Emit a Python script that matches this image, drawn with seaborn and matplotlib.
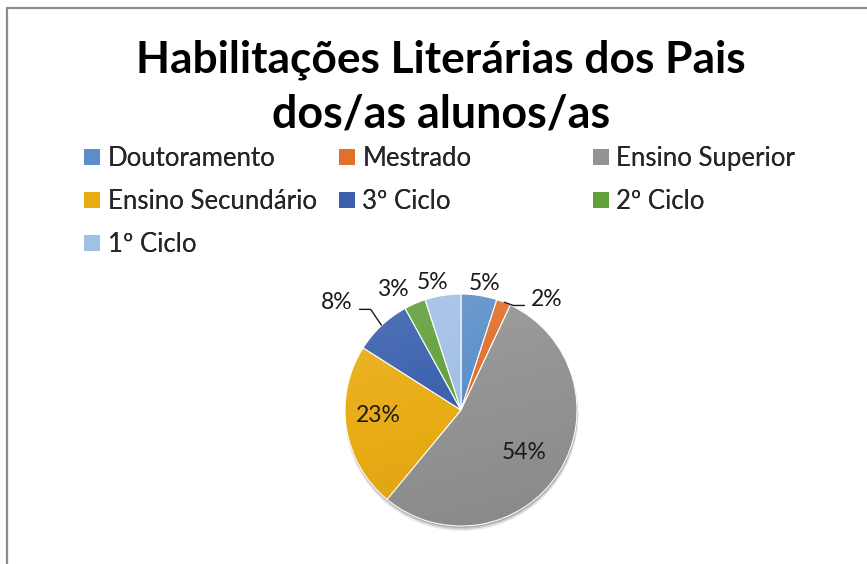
import numpy as np
import matplotlib
matplotlib.use("Agg")
import matplotlib.pyplot as plt
import seaborn as sns
from matplotlib.patches import Circle, Patch
from matplotlib.lines import Line2D

# ---------------- data ----------------
categories = ["Doutoramento", "Mestrado", "Ensino Superior", "Ensino Secundário",
              "3º Ciclo", "2º Ciclo", "1º Ciclo"]
values = [5, 2, 54, 23, 8, 3, 5]
pct_labels = ["5%", "2%", "54%", "23%", "8%", "3%", "5%"]
title_lines = ["Habilitações Literárias dos Pais", "dos/as alunos/as"]

# ---------------- style ----------------
colors = ["#5B8FC9", "#E0702A", "#939393", "#E8AC14", "#3A60AE", "#62A03C", "#A2BFE5"]
label_r = [1.114, 1.21, 0.656, 0.718, 1.412, 1.189, 1.121]
label_nudge = [-1.7, -16.2, -1.1, -4.9, 6.0, 6.1, 3.4]
leader = [False, True, False, False, True, False, False]

sns.set_theme(style="white")
plt.rcParams["font.family"] = ["Lato", "DejaVu Sans"]

W, H = 867, 564
fig = plt.figure(figsize=(W / 100, H / 100), dpi=100)
fig.patch.set_facecolor("white")

# border of the chart area (cropped at right and bottom)
fig.add_artist(Line2D([6.5 / W, 6.5 / W], [0, (H - 8) / H], color="#8c8c8c", lw=1.6,
                      transform=fig.transFigure))
fig.add_artist(Line2D([6.5 / W, 1], [(H - 8) / H, (H - 8) / H], color="#8c8c8c", lw=1.6,
                      transform=fig.transFigure))

# ---------------- pie ----------------
cx, cy, R = 461, 410, 116
lim = 1.5
size = 2 * lim * R
ax = fig.add_axes([(cx - size / 2) / W, (H - cy - size / 2) / H, size / W, size / H])

# soft shadow
for k, (off, a) in enumerate([(0.035, 0.10), (0.025, 0.18), (0.015, 0.25)]):
    ax.add_patch(Circle((0.005, -off), 1.0 + 0.004 * (2 - k), color="#404040", alpha=a,
                        lw=0, zorder=0))

wedges, _ = ax.pie(values, colors=colors, startangle=90, counterclock=False, radius=1,
                   wedgeprops=dict(edgecolor="white", linewidth=0.8))
for w in wedges:
    w.set_zorder(1)

# gradient overlay (light top-left, darker bottom) - continuous
n = 256
t = np.linspace(0, 1, n)[:, None] * np.ones((1, n))   # 0 top -> 1 bottom
s = np.linspace(0, 1, n)[None, :] * np.ones((n, 1))   # 0 left -> 1 right
v = 0.20 * (0.5 - t) + 0.05 * (0.5 - s)
v = np.where(v < 0, v * 0.6, v)
grad = np.zeros((n, n, 4))
grad[..., :3] = np.where((v > 0)[..., None], 1.0, 0.0)
grad[..., 3] = np.abs(v)
im = ax.imshow(grad, extent=[-1, 1, -1, 1], origin="upper", zorder=2, interpolation="bilinear")
im.set_clip_path(Circle((0, 0), 1.0, transform=ax.transData))

ax.set_xlim(-lim, lim)
ax.set_ylim(-lim, lim)
ax.set_aspect("equal")
ax.axis("off")

# labels
for w, lab, r, nd, ld in zip(wedges, pct_labels, label_r, label_nudge, leader):
    mid = 0.5 * (w.theta1 + w.theta2)
    ang = np.deg2rad(mid + nd)
    lx, ly = r * np.cos(ang), r * np.sin(ang)
    ax.text(lx, ly, lab, ha="center", va="center", fontsize=16.5, color="#1a1a1a", zorder=5)
    if ld:
        ex, ey = np.cos(np.deg2rad(mid)), np.sin(np.deg2rad(mid))
        side = 1 if lx > ex else -1
        axp = lx - side * 0.19
        ayp = ly - 0.055
        kx = axp - side * 0.1
        ax.plot([ex, kx, axp], [ey, ayp, ayp], color="#1a1a1a", lw=1.0, zorder=4,
                solid_capstyle="butt")

# ---------------- title ----------------
fig.canvas.draw()
renderer = fig.canvas.get_renderer()
title_targets = [(137, 745, 60), (272, 610, 115)]
for line, (x0, x1, yc) in zip(title_lines, title_targets):
    txt = fig.text((x0 + x1) / 2 / W, (H - yc) / H, line, ha="center", va="center",
                   fontsize=30, fontweight="bold", color="black")
    ww = txt.get_window_extent(renderer).width
    txt.set_fontsize(30 * (x1 - x0) / ww)

# ---------------- legend (three columns) ----------------
fs = 18.5
fpx = fs * 100 / 72
handles = [Patch(facecolor=c, edgecolor="none") for c in colors]
cols = [[0, 3, 6], [1, 4], [2, 5]]
col_x = [84, 339, 593]
for idx, x in zip(cols, col_x):
    leg = fig.legend([handles[i] for i in idx], [categories[i] for i in idx],
                     loc="upper left", bbox_to_anchor=(x / W, (H - 146) / H),
                     frameon=False, fontsize=fs, borderpad=0, borderaxespad=0,
                     handlelength=16 / fpx, handleheight=16 / fpx,
                     handletextpad=7.5 / fpx, labelspacing=0.70)
    fig.add_artist(leg)

fig.savefig("out.png", dpi=100, facecolor="white")
